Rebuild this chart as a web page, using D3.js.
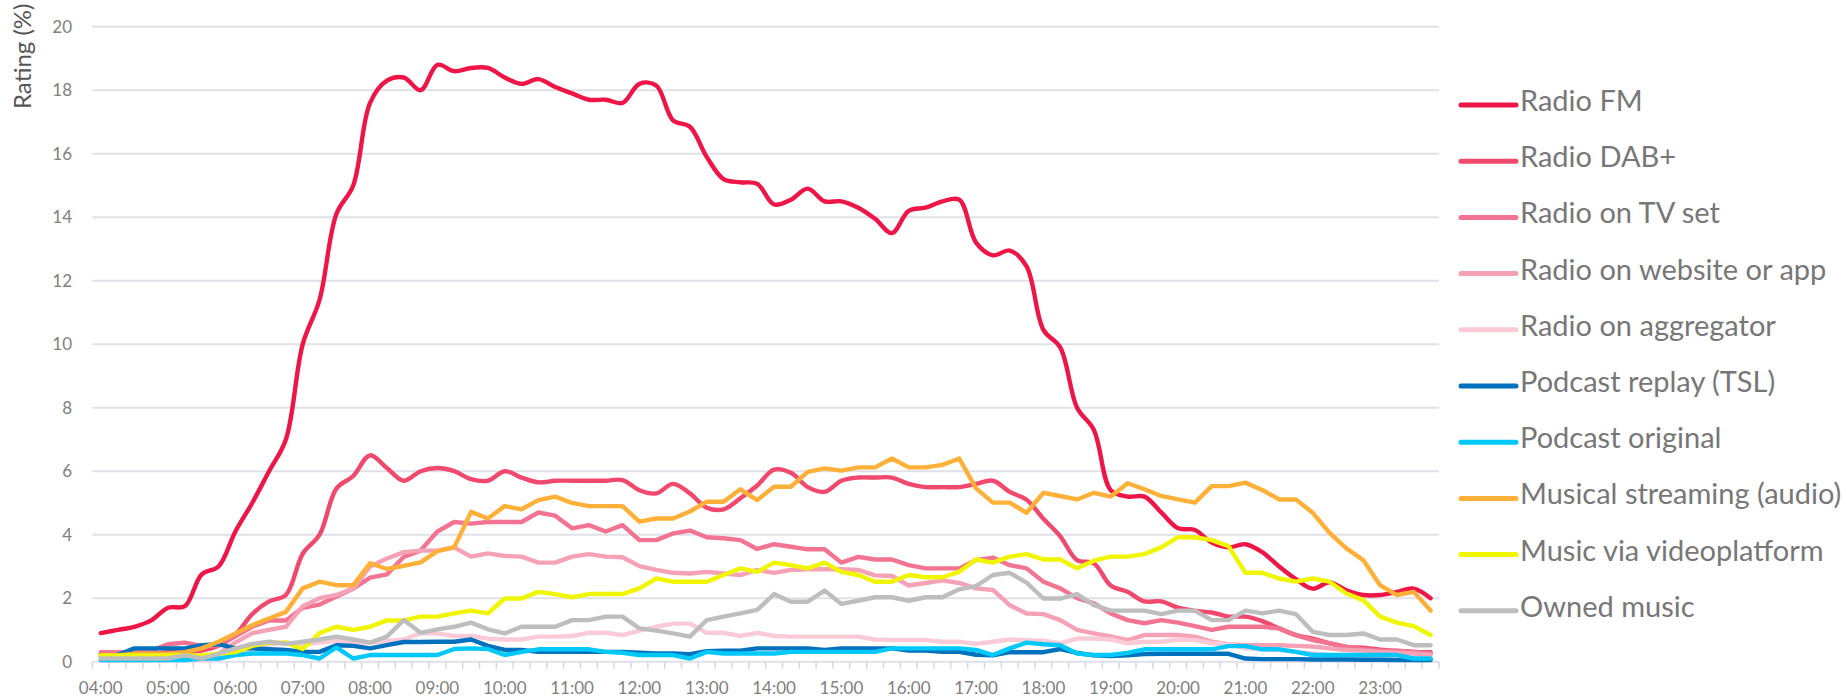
<!DOCTYPE html>
<html><head><meta charset="utf-8">
<script src="https://cdn.jsdelivr.net/npm/d3@7"></script>
<style>body{margin:0;background:#fff;} svg{display:block;font-family:Lato, sans-serif;}</style>
</head><body><svg id="chart" width="1846" height="697"></svg>
<script>
const categories = ["04:00","04:15","04:30","04:45","05:00","05:15","05:30","05:45","06:00","06:15","06:30","06:45","07:00","07:15","07:30","07:45","08:00","08:15","08:30","08:45","09:00","09:15","09:30","09:45","10:00","10:15","10:30","10:45","11:00","11:15","11:30","11:45","12:00","12:15","12:30","12:45","13:00","13:15","13:30","13:45","14:00","14:15","14:30","14:45","15:00","15:15","15:30","15:45","16:00","16:15","16:30","16:45","17:00","17:15","17:30","17:45","18:00","18:15","18:30","18:45","19:00","19:15","19:30","19:45","20:00","20:15","20:30","20:45","21:00","21:15","21:30","21:45","22:00","22:15","22:30","22:45","23:00","23:15","23:30","23:45"];
const xTickLabels = ["04:00","05:00","06:00","07:00","08:00","09:00","10:00","11:00","12:00","13:00","14:00","15:00","16:00","17:00","18:00","19:00","20:00","21:00","22:00","23:00"];
const yTicks = [0,2,4,6,8,10,12,14,16,18,20];

const seriesNames = ["Radio FM","Radio DAB+","Radio on TV set","Radio on website or app","Radio on aggregator","Podcast replay (TSL)","Podcast original","Musical streaming (audio)","Music via videoplatform","Owned music"];
const seriesColors = ["#ee1547","#f0496d","#f27492","#f6a2b6","#facbd7","#0071bc","#00c8f8","#ffb038","#f0f500","#bebebe"];
const seriesSmooth = [true,true,false,false,false,false,false,false,false,false];

const radioFM = [0.9,1.0,1.1,1.3,1.7,1.75,2.75,3.0,4.1,5.0,
 6.0,7.0,10.0,11.4,14.1,15.0,17.6,18.3,18.4,18.0,
 18.8,18.6,18.7,18.7,18.4,18.2,18.35,18.1,17.9,17.7,
 17.7,17.6,18.2,18.15,17.05,16.85,15.9,15.2,15.1,15.05,
 14.4,14.55,14.9,14.5,14.5,14.3,13.95,13.5,14.2,14.3,
 14.5,14.55,13.2,12.8,12.95,12.45,10.45,9.9,8.0,7.3,
 5.4,5.2,5.2,4.7,4.2,4.15,3.75,3.6,3.7,3.45,
 3.0,2.6,2.3,2.5,2.25,2.1,2.1,2.2,2.3,2.0];
const radioDAB = [0.25,0.25,0.25,0.25,0.3,0.3,0.35,0.5,0.85,1.5,
 1.9,2.1,3.4,4.0,5.45,5.85,6.5,6.1,5.7,6.0,
 6.1,6.0,5.75,5.7,6.0,5.8,5.65,5.7,5.7,5.7,
 5.7,5.72,5.4,5.3,5.6,5.3,4.85,4.8,5.15,5.55,
 6.05,5.95,5.5,5.35,5.7,5.8,5.8,5.8,5.6,5.5,
 5.5,5.5,5.6,5.7,5.35,5.1,4.5,3.95,3.2,3.1,
 2.4,2.2,1.9,1.9,1.7,1.6,1.55,1.42,1.42,1.28,
 1.05,0.84,0.73,0.58,0.46,0.44,0.38,0.34,0.31,0.3];
const radioTV = [0.3,0.3,0.3,0.35,0.55,0.6,0.5,0.5,0.8,1.1,
 1.3,1.3,1.7,1.8,2.05,2.3,2.65,2.75,3.3,3.5,
 4.1,4.4,4.35,4.4,4.4,4.4,4.7,4.6,4.2,4.3,
 4.1,4.3,3.83,3.83,4.04,4.13,3.92,3.89,3.83,3.55,
 3.7,3.62,3.54,3.54,3.12,3.3,3.22,3.22,3.04,2.94,
 2.94,2.94,3.2,3.28,3.04,2.94,2.52,2.31,2.0,1.84,
 1.52,1.31,1.21,1.31,1.23,1.12,1.0,1.1,1.1,1.1,
 1.05,0.84,0.68,0.58,0.47,0.39,0.35,0.35,0.31,0.26];
const radioWeb = [0.05,0.05,0.05,0.05,0.1,0.1,0.15,0.25,0.6,0.9,
 1.0,1.1,1.75,2.0,2.1,2.3,3.0,3.25,3.45,3.5,
 3.5,3.6,3.31,3.41,3.33,3.31,3.12,3.12,3.31,3.39,
 3.31,3.29,3.01,2.89,2.8,2.78,2.83,2.78,2.73,2.89,
 2.8,2.89,2.91,2.91,2.91,2.89,2.72,2.7,2.4,2.48,
 2.56,2.48,2.31,2.26,1.78,1.52,1.5,1.31,1.0,0.89,
 0.8,0.68,0.84,0.84,0.84,0.79,0.63,0.55,0.52,0.52,
 0.52,0.5,0.48,0.42,0.37,0.35,0.31,0.28,0.26,0.22];
const radioAgg = [0.05,0.05,0.05,0.05,0.05,0.05,0.05,0.1,0.25,0.4,
 0.55,0.6,0.55,0.6,0.65,0.6,0.6,0.65,0.7,0.9,
 0.89,0.81,0.81,0.73,0.7,0.7,0.79,0.79,0.81,0.91,
 0.91,0.84,0.98,1.1,1.2,1.2,0.91,0.91,0.81,0.91,
 0.81,0.79,0.79,0.79,0.79,0.79,0.7,0.68,0.68,0.68,
 0.63,0.63,0.56,0.63,0.7,0.68,0.66,0.58,0.73,0.73,
 0.7,0.58,0.63,0.63,0.7,0.68,0.58,0.56,0.42,0.39,
 0.37,0.31,0.26,0.21,0.18,0.18,0.16,0.14,0.1,0.1];
const podReplay = [0.16,0.21,0.42,0.42,0.42,0.42,0.52,0.55,0.42,0.42,
 0.39,0.37,0.31,0.31,0.52,0.5,0.42,0.52,0.62,0.62,
 0.63,0.63,0.7,0.5,0.37,0.37,0.31,0.31,0.31,0.31,
 0.31,0.31,0.28,0.26,0.26,0.24,0.33,0.35,0.35,0.42,
 0.42,0.42,0.42,0.37,0.42,0.42,0.42,0.42,0.35,0.35,
 0.31,0.31,0.22,0.2,0.3,0.3,0.3,0.4,0.28,0.2,
 0.18,0.2,0.24,0.25,0.25,0.25,0.25,0.25,0.1,0.08,
 0.08,0.08,0.07,0.07,0.07,0.06,0.06,0.05,0.05,0.05];
const podOriginal = [0.05,0.05,0.05,0.05,0.05,0.05,0.1,0.1,0.21,0.26,
 0.26,0.26,0.21,0.1,0.45,0.1,0.21,0.21,0.21,0.21,
 0.21,0.4,0.42,0.4,0.21,0.31,0.39,0.39,0.39,0.39,
 0.31,0.28,0.21,0.21,0.21,0.1,0.31,0.26,0.26,0.26,
 0.26,0.31,0.31,0.31,0.31,0.31,0.31,0.42,0.42,0.42,
 0.42,0.42,0.37,0.21,0.42,0.6,0.55,0.52,0.26,0.21,
 0.21,0.28,0.39,0.39,0.39,0.39,0.39,0.49,0.49,0.39,
 0.39,0.31,0.21,0.21,0.21,0.21,0.21,0.21,0.1,0.1];
const streaming = [0.2,0.2,0.25,0.25,0.25,0.3,0.42,0.63,0.89,1.15,
 1.36,1.57,2.31,2.52,2.41,2.41,3.1,2.92,3.02,3.13,
 3.48,3.6,4.72,4.51,4.9,4.8,5.09,5.2,5.0,4.9,
 4.9,4.9,4.41,4.51,4.51,4.73,5.04,5.04,5.43,5.09,
 5.51,5.51,5.98,6.09,6.02,6.12,6.12,6.4,6.12,6.12,
 6.2,6.4,5.46,5.01,5.01,4.69,5.32,5.22,5.11,5.32,
 5.2,5.62,5.43,5.22,5.11,5.01,5.53,5.53,5.64,5.41,
 5.11,5.11,4.69,4.06,3.57,3.2,2.41,2.1,2.2,1.61];
const videoPlatform = [0.2,0.2,0.2,0.2,0.2,0.2,0.2,0.25,0.3,0.5,
 0.6,0.6,0.4,0.9,1.1,1.0,1.1,1.3,1.3,1.42,
 1.42,1.52,1.61,1.52,1.99,1.99,2.2,2.13,2.03,2.13,
 2.13,2.13,2.31,2.62,2.52,2.52,2.52,2.73,2.94,2.83,
 3.12,3.04,2.94,3.12,2.83,2.73,2.52,2.52,2.73,2.66,
 2.66,2.83,3.22,3.12,3.31,3.39,3.22,3.22,2.94,3.18,
 3.31,3.31,3.39,3.6,3.92,3.92,3.83,3.64,2.8,2.8,
 2.62,2.52,2.62,2.52,2.15,1.94,1.42,1.23,1.12,0.84];
const ownedMusic = [0.1,0.1,0.1,0.1,0.1,0.2,0.1,0.25,0.42,0.56,
 0.63,0.56,0.63,0.7,0.79,0.7,0.6,0.79,1.31,0.91,
 1.02,1.1,1.23,1.02,0.89,1.1,1.1,1.1,1.31,1.31,
 1.42,1.42,1.05,0.98,0.89,0.79,1.31,1.42,1.52,1.63,
 2.13,1.89,1.89,2.24,1.82,1.92,2.03,2.03,1.92,2.03,
 2.03,2.28,2.38,2.73,2.8,2.49,1.99,1.99,2.13,1.78,
 1.61,1.61,1.61,1.5,1.61,1.61,1.31,1.31,1.61,1.52,
 1.61,1.5,0.94,0.84,0.84,0.89,0.7,0.7,0.52,0.52];

const seriesValues = [radioFM,radioDAB,radioTV,radioWeb,radioAgg,podReplay,podOriginal,streaming,videoPlatform,ownedMusic];

const svg = d3.select("#chart");
const plotL = 92.3, plotR = 1439, plotT = 26.7, plotB = 661.7;
const x = d3.scaleBand().domain(categories).range([plotL, plotR]).padding(0);
const y = d3.scaleLinear().domain([0, 20]).range([plotB, plotT]);
const bw = x.bandwidth();

// gridlines
svg.append("g").selectAll("line").data(yTicks).join("line")
  .attr("x1", plotL).attr("x2", plotR)
  .attr("y1", d => y(d)).attr("y2", d => y(d))
  .attr("stroke", "#e0e1e8").attr("stroke-width", 2);

// y labels
svg.append("g").selectAll("text").data(yTicks).join("text")
  .attr("x", 72).attr("y", d => y(d) + 6)
  .attr("text-anchor", "end").attr("font-size", 17).attr("fill", "#808080")
  .text(d => d);

// y title
svg.append("text")
  .attr("transform", "translate(30.5,3.5) rotate(-90)")
  .attr("text-anchor", "end").attr("font-size", 24).attr("fill", "#555")
  .text("Rating (%)");

// x ticks at band boundaries
const tickPos = categories.map(c => x(c)).concat([plotR]);
svg.append("g").selectAll("line").data(tickPos).join("line")
  .attr("x1", d => d).attr("x2", d => d)
  .attr("y1", plotB).attr("y2", plotB + 7)
  .attr("stroke", "#d4d7e0").attr("stroke-width", 1.5);

// x labels
svg.append("g").selectAll("text").data(xTickLabels).join("text")
  .attr("x", d => x(d) + bw / 2).attr("y", 693.5)
  .attr("text-anchor", "middle").attr("font-size", 17).attr("fill", "#808080")
  .text(d => d);

// lines
const lineLinear = d3.line().x((d, i) => x(categories[i]) + bw / 2).y(d => y(d));
const lineSmooth = d3.line().x((d, i) => x(categories[i]) + bw / 2).y(d => y(d)).curve(d3.curveCatmullRom.alpha(0.5));
const g = svg.append("g");
seriesValues.forEach((vals, k) => {
  g.append("path")
    .attr("d", (seriesSmooth[k] ? lineSmooth : lineLinear)(vals))
    .attr("fill", "none").attr("stroke", seriesColors[k])
    .attr("stroke-width", 4.4).attr("stroke-linejoin", "round").attr("stroke-linecap", "round");
});

// legend
const leg = svg.append("g");
seriesNames.forEach((name, k) => {
  const yy = 111 + 56.2 * k;
  leg.append("line").attr("x1", 1461).attr("x2", 1516)
    .attr("y1", yy - 6).attr("y2", yy - 6)
    .attr("stroke", seriesColors[k]).attr("stroke-width", 5).attr("stroke-linecap", "round");
  leg.append("text").attr("x", 1520).attr("y", yy)
    .attr("font-size", 29).attr("fill", "#777").text(name);
});
</script></body></html>
